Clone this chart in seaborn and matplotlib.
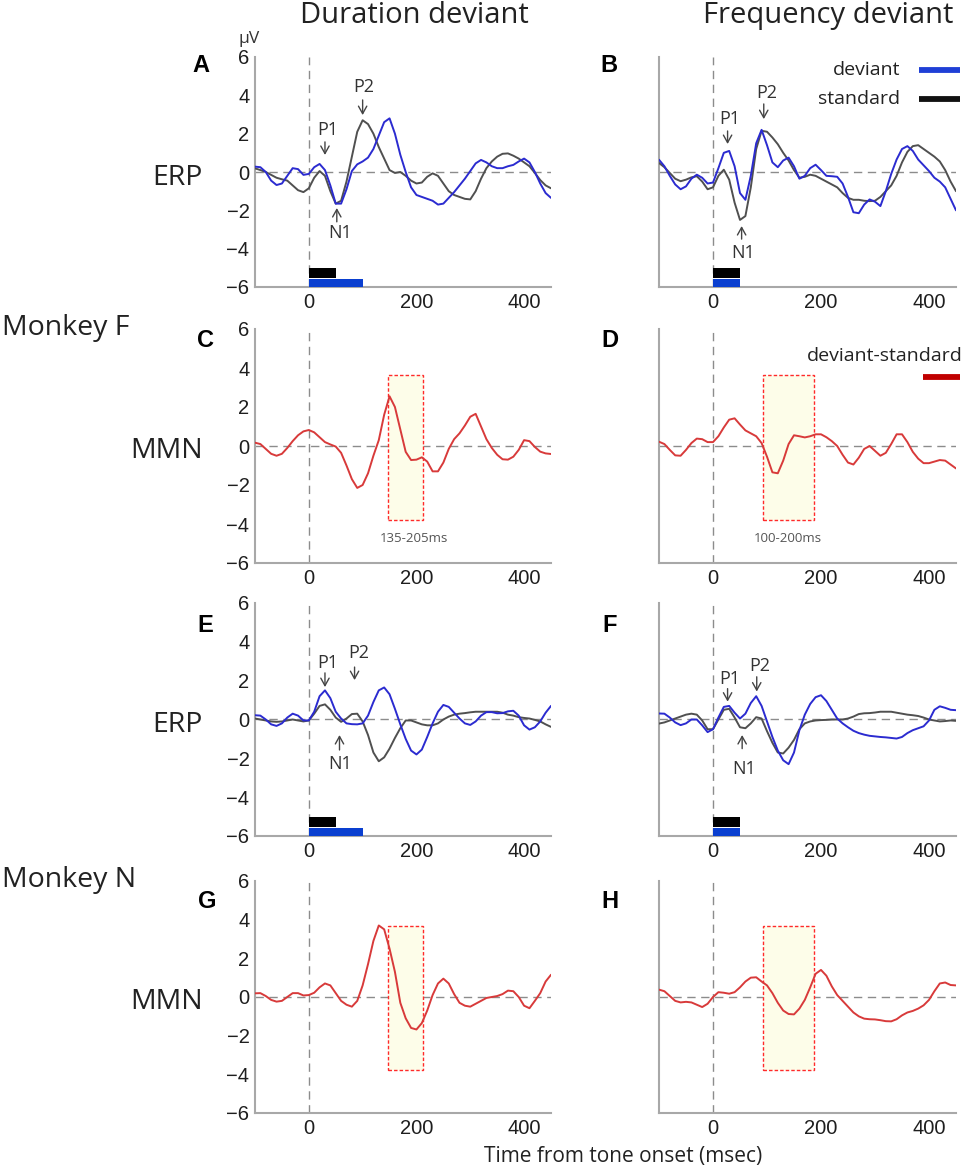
import matplotlib
matplotlib.use('Agg')
import matplotlib.pyplot as plt
import seaborn as sns
import pandas as pd
from matplotlib.patches import Rectangle
from matplotlib.lines import Line2D

sns.set_theme(style='white')
plt.rcParams['font.family'] = ['Liberation Sans', 'DejaVu Sans']
plt.rcParams['lines.solid_joinstyle'] = 'round'
OPEN = ['Open Sans', 'DejaVu Sans']

# ---------------- data (µV, sampled every 10 ms from -100 to 450 ms) ----------------
time_ms = list(range(-100, 451, 10))

# Monkey F, duration deviant (panel A)
A_deviant = [0.28, 0.25, 0.0, -0.45, -0.68, -0.6, -0.2, 0.2, 0.15, -0.15,
             -0.1, 0.25, 0.42, 0.1, -0.7, -1.65, -1.65, -0.9, 0.05, 0.4,
             0.55, 0.75, 1.2, 1.9, 2.6, 2.8, 2.0, 0.9, 0.0, -0.8,
             -1.2, -1.3, -1.4, -1.5, -1.7, -1.65, -1.35, -1.05, -0.7, -0.35,
             0.05, 0.45, 0.63, 0.5, 0.3, 0.2, 0.2, 0.3, 0.37, 0.55,
             0.7, 0.5, 0.0, -0.6, -1.1, -1.35]
A_standard = [0.19, 0.1, 0.0, -0.15, -0.3, -0.38, -0.45, -0.7, -0.95, -1.05,
              -0.85, -0.3, 0.05, -0.2, -1.0, -1.65, -1.5, -0.5, 0.8, 2.1,
              2.7, 2.5, 2.0, 1.3, 0.7, 0.1, -0.05, 0.0, -0.2, -0.45,
              -0.6, -0.55, -0.25, -0.07, -0.2, -0.6, -1.0, -1.2, -1.3, -1.4,
              -1.43, -1.0, -0.35, 0.2, 0.55, 0.8, 0.95, 0.97, 0.85, 0.7,
              0.5, 0.3, -0.05, -0.42, -0.7, -0.85]
# Monkey F, frequency deviant (panel B)
B_deviant = [0.64, 0.3, -0.2, -0.65, -0.9, -0.75, -0.35, -0.14, -0.3, -0.6,
             -0.55, 0.2, 1.0, 1.1, 0.3, -1.1, -1.45, -0.2, 1.5, 2.2,
             1.4, 0.5, 0.25, 0.6, 0.75, 0.3, -0.35, -0.2, 0.2, 0.38,
             0.1, -0.2, -0.22, -0.25, -0.6, -1.3, -2.1, -2.15, -1.7, -1.43,
             -1.55, -1.78, -1.0, -0.1, 0.65, 1.2, 1.35, 1.1, 0.65, 0.35,
             0.05, -0.3, -0.5, -0.8, -1.4, -2.0]
B_standard = [0.47, 0.25, -0.05, -0.35, -0.48, -0.4, -0.28, -0.22, -0.5, -0.9,
              -0.8, -0.2, 0.12, -0.4, -1.6, -2.5, -2.3, -0.8, 1.2, 2.15,
              2.1, 1.8, 1.45, 1.0, 0.6, 0.1, -0.3, -0.25, -0.14, -0.2,
              -0.35, -0.5, -0.65, -0.8, -1.1, -1.35, -1.45, -1.45, -1.5, -1.52,
              -1.5, -1.3, -1.0, -0.7, -0.2, 0.5, 1.05, 1.35, 1.4, 1.2,
              1.0, 0.8, 0.55, 0.1, -0.5, -1.0]
# Monkey F, deviant-standard (panels C, D)
C_mmn = [0.17, 0.1, -0.15, -0.4, -0.5, -0.4, -0.1, 0.25, 0.55, 0.75,
         0.82, 0.7, 0.45, 0.2, 0.08, -0.03, -0.35, -1.0, -1.7, -2.15,
         -2.0, -1.4, -0.5, 0.3, 1.6, 2.55, 2.0, 0.85, -0.3, -0.72,
         -0.7, -0.58, -0.8, -1.3, -1.3, -0.85, -0.15, 0.35, 0.65, 1.05,
         1.5, 1.65, 1.0, 0.35, -0.1, -0.45, -0.68, -0.7, -0.55, -0.2,
         0.3, 0.25, -0.05, -0.29, -0.38, -0.41]
D_mmn = [0.22, 0.1, -0.2, -0.48, -0.5, -0.2, 0.15, 0.38, 0.35, 0.2,
         0.2, 0.5, 0.95, 1.35, 1.42, 1.1, 0.8, 0.65, 0.5, 0.15,
         -0.55, -1.35, -1.4, -0.75, 0.1, 0.55, 0.5, 0.44, 0.5, 0.6,
         0.6, 0.45, 0.25, 0.0, -0.45, -0.85, -0.95, -0.6, -0.15, 0.0,
         -0.25, -0.5, -0.35, 0.1, 0.6, 0.6, 0.2, -0.3, -0.65, -0.88,
         -0.88, -0.8, -0.72, -0.75, -0.95, -1.15]
# Monkey N, duration deviant (panel E)
E_deviant = [0.22, 0.2, 0.0, -0.25, -0.33, -0.2, 0.1, 0.3, 0.2, -0.05,
             -0.05, 0.4, 1.2, 1.5, 1.1, 0.4, 0.05, -0.2, -0.24, -0.25,
             -0.2, 0.2, 0.9, 1.5, 1.65, 1.3, 0.55, -0.25, -1.0, -1.6,
             -1.8, -1.55, -0.9, -0.2, 0.4, 0.75, 0.65, 0.35, 0.05, -0.2,
             -0.28, -0.1, 0.2, 0.38, 0.38, 0.32, 0.33, 0.42, 0.45, 0.2,
             -0.3, -0.52, -0.4, -0.1, 0.35, 0.7]
E_standard = [0.05, 0.0, -0.05, -0.1, -0.12, -0.1, -0.05, 0.0, -0.05, -0.1,
              -0.05, 0.3, 0.7, 0.78, 0.5, 0.1, -0.12, 0.05, 0.28, 0.3,
              -0.1, -0.8, -1.7, -2.15, -1.95, -1.5, -0.95, -0.45, -0.05, -0.05,
              -0.15, -0.25, -0.3, -0.3, -0.2, 0.0, 0.15, 0.25, 0.3, 0.33,
              0.37, 0.4, 0.4, 0.4, 0.4, 0.4, 0.35, 0.25, 0.2, 0.12,
              0.08, 0.05, -0.02, -0.1, -0.25, -0.38]
# Monkey N, frequency deviant (panel F)
F_deviant = [0.31, 0.3, 0.1, -0.15, -0.29, -0.2, 0.0, 0.0, -0.3, -0.65,
             -0.5, 0.1, 0.65, 0.7, 0.35, 0.05, 0.3, 0.85, 1.2, 0.7,
             -0.1, -0.9, -1.6, -2.1, -2.3, -1.7, -0.55, 0.25, 0.8, 1.15,
             1.25, 0.95, 0.5, 0.05, -0.2, -0.4, -0.58, -0.7, -0.78, -0.84,
             -0.87, -0.9, -0.92, -0.95, -0.98, -0.9, -0.7, -0.55, -0.45, -0.35,
             -0.05, 0.5, 0.68, 0.6, 0.5, 0.48]
F_standard = [-0.21, -0.15, -0.05, 0.05, 0.15, 0.25, 0.3, 0.25, -0.05, -0.5,
              -0.5, 0.0, 0.5, 0.55, 0.1, -0.4, -0.45, -0.2, 0.12, 0.05,
              -0.6, -1.2, -1.7, -1.75, -1.45, -1.05, -0.5, -0.2, -0.1, -0.05,
              -0.03, -0.02, 0.0, 0.0, 0.0, 0.05, 0.15, 0.28, 0.32, 0.33,
              0.36, 0.4, 0.4, 0.4, 0.35, 0.3, 0.25, 0.22, 0.18, 0.1,
              0.0, -0.05, -0.1, -0.08, -0.05, -0.07]
# Monkey N, deviant-standard (panels G, H)
G_mmn = [0.19, 0.2, 0.05, -0.15, -0.24, -0.2, 0.0, 0.2, 0.2, 0.08,
         0.1, 0.22, 0.5, 0.7, 0.6, 0.2, -0.2, -0.4, -0.5, -0.2,
         0.6, 1.7, 2.9, 3.7, 3.5, 2.5, 1.3, -0.3, -1.1, -1.6,
         -1.68, -1.35, -0.7, 0.1, 0.7, 0.95, 0.7, 0.15, -0.3, -0.45,
         -0.5, -0.35, -0.2, -0.05, 0.0, 0.05, 0.15, 0.33, 0.3, 0.0,
         -0.45, -0.58, -0.2, 0.2, 0.8, 1.15]
H_mmn = [0.38, 0.3, 0.05, -0.2, -0.28, -0.25, -0.28, -0.4, -0.52, -0.35,
         0.0, 0.25, 0.22, 0.17, 0.25, 0.5, 0.8, 1.0, 1.02, 0.8,
         0.6, 0.2, -0.3, -0.7, -0.88, -0.9, -0.6, -0.15, 0.5, 1.2,
         1.4, 1.1, 0.55, 0.1, -0.2, -0.5, -0.8, -1.0, -1.12, -1.15,
         -1.16, -1.2, -1.25, -1.26, -1.15, -0.95, -0.8, -0.72, -0.6, -0.43,
         -0.15, 0.3, 0.7, 0.75, 0.62, 0.6]

# stimulus durations (ms) and analysis windows (ms)
duration_std_tone = [0, 50]
duration_dev_tone = [0, 100]
frequency_std_tone = [0, 50]
frequency_dev_tone = [0, 50]
duration_window = [148, 213]
frequency_window = [93, 187]
duration_window_label = '135-205ms'
frequency_window_label = '100-200ms'

x_ticks = [0, 200, 400]
y_ticks = [-6, -4, -2, 0, 2, 4, 6]

# ---------------- styling ----------------
BLUE = '#2b2bd0'
GRAY = '#505050'
RED = '#d83a3a'
SPINE = '#a8a8a8'
DASH = '#8c8c8c'

W, H = 967, 1171
fig = plt.figure(figsize=(W / 100, H / 100), dpi=100)


def rect(x0, top, x1, bottom):
    return [x0 / W, 1 - bottom / H, (x1 - x0) / W, (bottom - top) / H]


cols = [(255, 551), (659, 956)]
rows = [(57, 287), (329, 563), (603, 836), (881, 1113)]


def make_ax(r, c):
    ax = fig.add_axes(rect(cols[c][0], rows[r][0], cols[c][1], rows[r][1]))
    ax.set_facecolor('none')
    ax.set_xlim(-100, 450)
    ax.set_ylim(-6, 6)
    ax.set_xticks(x_ticks)
    ax.set_yticks(y_ticks)
    for s in ['top', 'right']:
        ax.spines[s].set_visible(False)
    for s in ['left', 'bottom']:
        ax.spines[s].set_color(SPINE)
        ax.spines[s].set_linewidth(1.5)
    ax.tick_params(direction='in', length=3, width=1, color='#999999',
                   labelsize=14.5, labelcolor='#1e1e1e', pad=4)
    if c == 1:
        ax.set_yticklabels([])
    ax.axhline(0, color=DASH, lw=1.0, ls=(0, (6, 4)), zorder=1)
    ax.axvline(0, color=DASH, lw=1.0, ls=(0, (6, 4)), zorder=1)
    ax.set_xlabel('')
    ax.set_ylabel('')
    return ax


def curve(ax, vals, color, lw=1.4):
    df = pd.DataFrame({'t': time_ms, 'v': vals})
    sns.lineplot(data=df, x='t', y='v', ax=ax, color=color, linewidth=lw, zorder=3)
    ax.set_xlabel('')
    ax.set_ylabel('')


def tone_bars(ax, std, dev):
    ax.fill_between(std, -5.53, -5.0, color='black', lw=0, zorder=4)
    ax.fill_between(dev, -6.0, -5.58, color='#0a3fd0', lw=0, zorder=4)


def window_box(ax, win, label, lx):
    ax.add_patch(Rectangle((win[0], -3.8), win[1] - win[0], 7.45,
                           facecolor='#fdfde9', edgecolor='#ff2a2a', ls=(0, (2.5, 1.5)),
                           lw=1.0, zorder=2))
    if label:
        ax.text(lx, -4.72, label, ha='center', va='center', fontsize=9.5,
                color='#555555', family=OPEN)


def peak(ax, label, tx, ty, axx, tail, tip):
    ax.text(tx, ty, label, ha='center', va='center', fontsize=13,
            color='#333333', family=OPEN, zorder=5)
    ax.annotate('', xy=(axx, tip), xytext=(axx, tail),
                arrowprops=dict(arrowstyle='->,head_length=0.45,head_width=0.25',
                                color='#444444', lw=1.0, shrinkA=0, shrinkB=0))


# Panel A
axA = make_ax(0, 0)
curve(axA, A_standard, GRAY)
curve(axA, A_deviant, BLUE)
tone_bars(axA, duration_std_tone, duration_dev_tone)
peak(axA, 'P1', 35, 2.19, 30, 1.57, 0.89)
peak(axA, 'N1', 59, -3.18, 52, -2.6, -1.88)
peak(axA, 'P2', 102, 4.43, 100, 3.76, 2.97)

# Panel B
axB = make_ax(0, 1)
curve(axB, B_standard, GRAY)
curve(axB, B_deviant, BLUE)
tone_bars(axB, frequency_std_tone, frequency_dev_tone)
peak(axB, 'P1', 31, 2.76, 27, 2.14, 1.46)
peak(axB, 'N1', 56, -4.22, 53, -3.5, -2.82)
peak(axB, 'P2', 99, 4.12, 94, 3.55, 2.76)

# Panel C
axC = make_ax(1, 0)
window_box(axC, duration_window, duration_window_label, 196)
curve(axC, C_mmn, RED)

# Panel D
axD = make_ax(1, 1)
window_box(axD, frequency_window, frequency_window_label, 139)
curve(axD, D_mmn, RED)

# Panel E
axE = make_ax(2, 0)
curve(axE, E_standard, GRAY)
curve(axE, E_deviant, BLUE)
tone_bars(axE, duration_std_tone, duration_dev_tone)
peak(axE, 'P1', 35, 2.91, 30, 2.4, 1.67)
peak(axE, 'P2', 93, 3.42, 85, 2.7, 2.03)
peak(axE, 'N1', 59, -2.3, 57, -1.57, -0.8)

# Panel F
axF = make_ax(2, 1)
curve(axF, F_standard, GRAY)
curve(axF, F_deviant, BLUE)
tone_bars(axF, frequency_std_tone, frequency_dev_tone)
peak(axF, 'P1', 31, 2.11, 27, 1.59, 0.92)
peak(axF, 'P2', 87, 2.78, 81, 2.2, 1.44)
peak(axF, 'N1', 57, -2.55, 54, -1.5, -0.8)

# Panel G
axG = make_ax(3, 0)
window_box(axG, duration_window, None, 0)
curve(axG, G_mmn, RED)

# Panel H
axH = make_ax(3, 1)
window_box(axH, frequency_window, None, 0)
curve(axH, H_mmn, RED)


# ---------------- figure texts (pixel positions) ----------------
def ftext(x, y, s, **kw):
    fig.text(x / W, 1 - y / H, s, **kw)


ftext(414, 23, 'Duration deviant', ha='center', va='baseline', fontsize=21,
      color='#222222', family=OPEN)
ftext(828, 23, 'Frequency deviant', ha='center', va='baseline', fontsize=21,
      color='#222222', family=OPEN)
ftext(238, 43, 'μV', ha='left', va='baseline', fontsize=12.5, color='#333333', family=OPEN)

for y in (185, 732):
    ftext(203, y, 'ERP', ha='right', va='baseline', fontsize=20.5, color='#222222', family=OPEN)
for y in (458, 1009):
    ftext(203, y, 'MMN', ha='right', va='baseline', fontsize=20.5, color='#222222', family=OPEN)
ftext(2, 335, 'Monkey F', ha='left', va='baseline', fontsize=20.5, color='#222222', family=OPEN)
ftext(2, 887, 'Monkey N', ha='left', va='baseline', fontsize=20.5, color='#222222', family=OPEN)

letters = [('A', 201, 72), ('B', 609, 72), ('C', 206, 347), ('D', 610, 347),
           ('E', 205, 632), ('F', 610, 632), ('G', 207, 908), ('H', 610, 908)]
for s, x, y in letters:
    ftext(x, y, s, ha='center', va='baseline', fontsize=17, fontweight='bold',
          color='black', family=['Liberation Sans', 'DejaVu Sans'])

ftext(623, 1162, 'Time from tone onset (msec)', ha='center', va='baseline',
      fontsize=15, color='#222222', family=OPEN)

# legends
ftext(900, 75, 'deviant', ha='right', va='baseline', fontsize=14, color='#222222', family=OPEN)
ftext(900, 104, 'standard', ha='right', va='baseline', fontsize=14, color='#222222', family=OPEN)
ftext(963, 361, 'deviant-standard', ha='right', va='baseline', fontsize=14,
      color='#222222', family=OPEN)
for y, col in ((70, '#1f3fd6'), (99, '#111111'), (377, '#c00000')):
    x0 = 919 if y < 200 else 923
    fig.add_artist(Line2D([x0 / W, 960 / W], [1 - y / H, 1 - y / H],
                          transform=fig.transFigure, color=col, lw=4.2,
                          solid_capstyle='butt'))

fig.savefig('out.png', dpi=100)
